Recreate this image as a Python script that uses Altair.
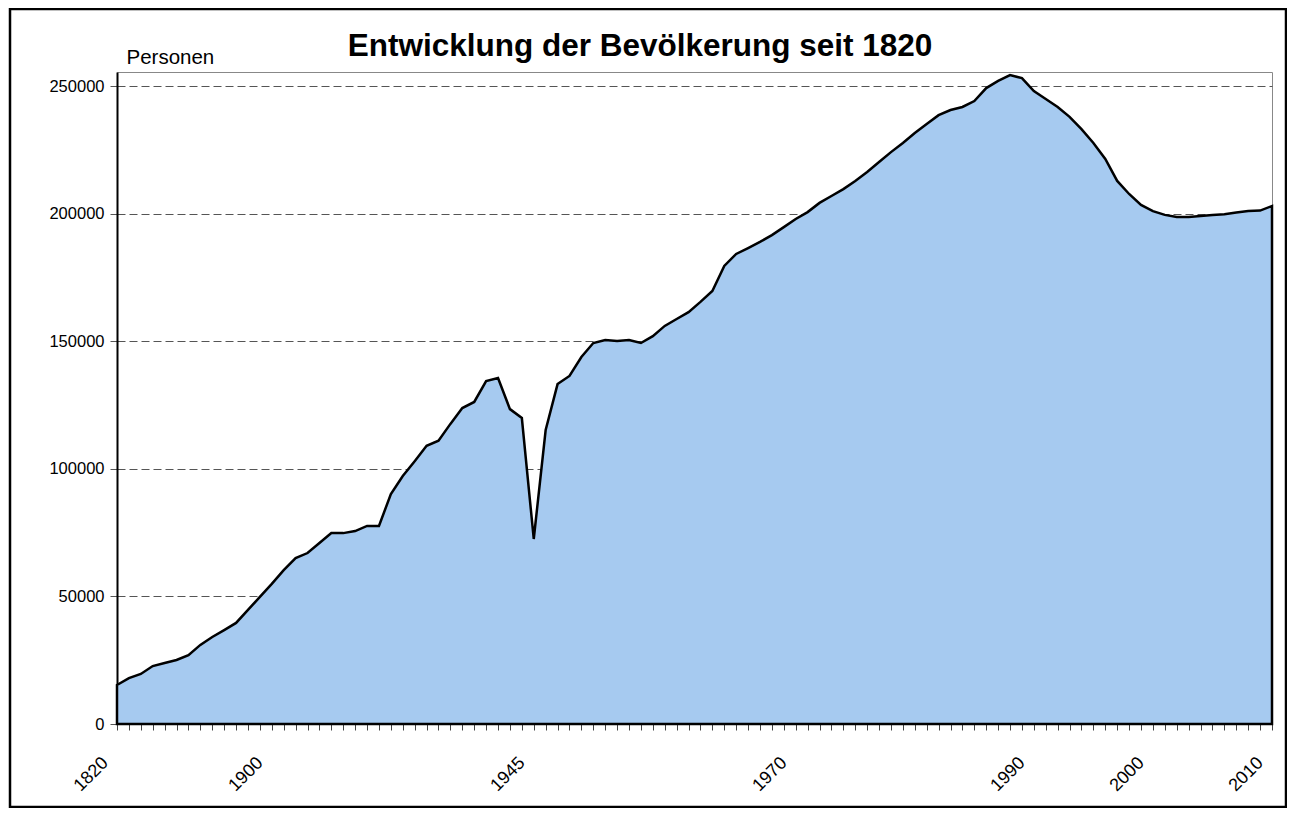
import altair as alt
import pandas as pd

# Category years (x axis) and population values (y axis)
years = [1820, 1830, 1840, 1846, 1850, 1855, 1858, 1861, 1864, 1867, 1871, 1880, 1890,
         1900, 1905, 1910, 1913, 1916, 1919, 1922, 1925, 1927, 1929, 1931, 1933, 1934,
         1935, 1936, 1937, 1938, 1939, 1940, 1941, 1942, 1943,
         1945, 1946, 1947, 1948, 1949, 1950, 1951, 1952, 1953, 1954, 1955, 1956, 1957,
         1958, 1959, 1960, 1961, 1962, 1964, 1966, 1968, 1969] + list(range(1970, 2011))

population = [15300, 18000, 19600, 22700, 23900, 25100, 27000, 31000, 34100, 36800, 39600, 44700, 49800,
              54900, 60300, 65000, 67000, 70900, 74800, 74800, 75600, 77600, 77600, 90100, 97200, 103000,
              109000, 111000, 117600, 123800, 126200, 134400, 135600, 123400, 119900,
              72500, 115200, 133200, 136400, 143800, 149300, 150500, 150100, 150500, 149300, 152000, 156000,
              158700, 161400, 165400, 169700, 179500, 184200, 186500, 188900, 191600, 194700,
              197900, 200600, 204200, 206900, 209600, 212800, 216300, 220200, 224100, 227700, 231600,
              235100, 238600, 240600, 241800, 244100, 249200, 252000, 254300, 253100, 248000, 244900,
              241800, 237900, 233100, 227700, 221400, 212800, 207700, 203400, 201000, 199500, 198700,
              198700, 199100, 199500, 199800, 200400, 201000, 201200, 203000]

labelled_years = [1820, 1900, 1945, 1970, 1990, 2000, 2010]
y_ticks = [0, 50000, 100000, 150000, 200000, 250000]
title_text = "Entwicklung der Bevölkerung seit 1820"
y_title = "Personen"

df = pd.DataFrame({"Jahr": years, "Personen": population})

FONT = "Liberation Sans"
lab_list = ",".join(str(v) for v in labelled_years)

area = alt.Chart(df).mark_area(
    fill="#a6caf0", stroke="black", strokeWidth=2.5, strokeJoin="miter"
).encode(
    x=alt.X("Jahr:O", sort=None, scale=alt.Scale(padding=0),
            axis=alt.Axis(
                title=None, domain=False, ticks=True, tickSize=6, tickColor="#444",
                labelExpr=f"indexof([{lab_list}], datum.value) >= 0 ? datum.value : ''",
                labelAngle=-45, labelAlign="right", labelBaseline="middle",
                labelPadding=30, labelOffset=-12, labelOverlap=False,
                labelFont=FONT, labelFontSize=18, labelColor="black")),
    y=alt.Y("Personen:Q", scale=alt.Scale(domain=[0, 255500], nice=False, zero=True),
            axis=alt.Axis(
                values=y_ticks, format="d", grid=True, gridDash=[8, 4], gridColor="#555",
                gridWidth=1, domainColor="black", domainWidth=2, tickColor="#555",
                tickSize=7, labelPadding=6, labelFont=FONT, labelFontSize=16.5,
                labelColor="black", title=y_title, titleAngle=0, titleAlign="left",
                titleBaseline="alphabetic", titleX=9, titleY=-9, titleFont=FONT,
                titleFontSize=20.5, titleFontWeight="normal", titleColor="black")),
)

title = alt.Chart(pd.DataFrame({"t": [title_text]})).mark_text(
    font=FONT, fontSize=31.5, fontWeight="bold", align="center", baseline="alphabetic",
    color="black"
).encode(x=alt.value(523), y=alt.value(-16), text="t:N")

frame = alt.Chart(pd.DataFrame({"a": [0]})).mark_rect(
    fill=None, stroke="black", strokeWidth=2.5
).encode(x=alt.value(-107), x2=alt.value(1169), y=alt.value(-63), y2=alt.value(735))

chart = alt.layer(area, title, frame).properties(
    width=1155, height=652,
    autosize=alt.AutoSizeParams(type="none"),
    padding={"left": 109, "top": 64, "right": 15, "bottom": 84},
).configure_view(stroke="#888", strokeWidth=1)

chart.save("out.html", embed_options={"renderer": "svg", "actions": False})
